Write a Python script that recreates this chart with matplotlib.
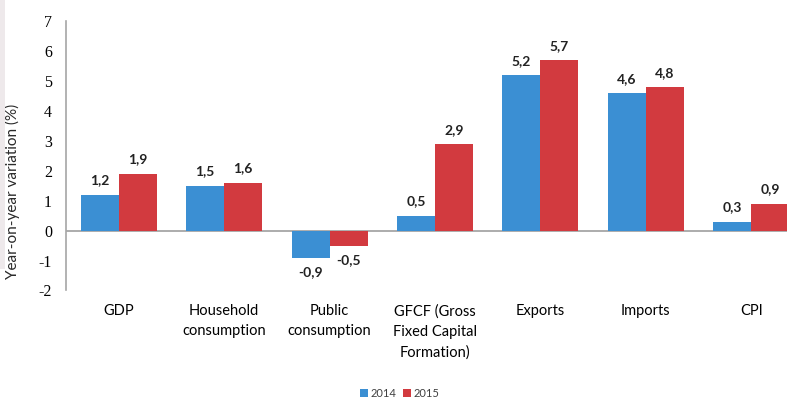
import numpy as np
import matplotlib.pyplot as plt
from matplotlib.patches import Rectangle

categories = ['GDP', 'Household\nconsumption', 'Public\nconsumption',
              'GFCF (Gross\nFixed Capital\nFormation)', 'Exports', 'Imports', 'CPI']
years = ['2014', '2015']
values_2014 = [1.2, 1.5, -0.9, 0.5, 5.2, 4.6, 0.3]
values_2015 = [1.9, 1.6, -0.5, 2.9, 5.7, 4.8, 0.9]

blue = '#3B8FD3'
red = '#D23A3F'

plt.rcParams['font.family'] = ['Lato', 'DejaVu Sans']

fig = plt.figure(figsize=(7.87, 4.01), dpi=100)
fig.patches.append(Rectangle((0, 0.33), 0.006, 0.67, transform=fig.transFigure,
                             facecolor='#EEE9EB', edgecolor='none'))
ax = fig.add_axes([0.0839, 0.2756, 0.9377, 0.671])

x = np.arange(len(categories))
w = 0.36
b1 = ax.bar(x - w / 2, values_2014, w, color=blue, label=years[0])
b2 = ax.bar(x + w / 2, values_2015, w, color=red, label=years[1])

for bars in (b1, b2):
    labels = [('%.1f' % b.get_height()).replace('.', ',') for b in bars]
    ax.bar_label(bars, labels=labels, padding=6, fontsize=10, fontweight='bold',
                 color='#222222')

ax.axhline(0, color='#A6A6A6', lw=1.3, zorder=0)
ax.set_xlim(-0.5, len(categories) - 0.5)
ax.set_ylim(-2, 7)
ax.set_yticks(range(-2, 8))
ax.set_yticklabels([str(v) for v in range(-2, 8)], family='Liberation Serif',
                   fontsize=11.5)
ax.set_xticks(x)
ax.set_xticklabels(categories, fontsize=10.5, linespacing=1.55, va='top')
ax.tick_params(axis='x', length=0, pad=10)
ax.tick_params(axis='y', length=0, pad=10)

for s in ['top', 'right', 'bottom']:
    ax.spines[s].set_visible(False)
ax.spines['left'].set_color('#A6A6A6')
ax.spines['left'].set_linewidth(1.2)

ax.set_ylabel('Year-on-year variation (%)', fontsize=11, color='#2A2A2A')
ax.yaxis.set_label_coords(-0.062, 0.37)

fig.legend(loc='lower center', bbox_to_anchor=(0.508, -0.02), ncol=2, frameon=False,
           fontsize=8, handlelength=0.7, handleheight=0.7, handletextpad=0.25,
           columnspacing=0.6, labelcolor='#404040')

fig.savefig('out.png', dpi=100)
